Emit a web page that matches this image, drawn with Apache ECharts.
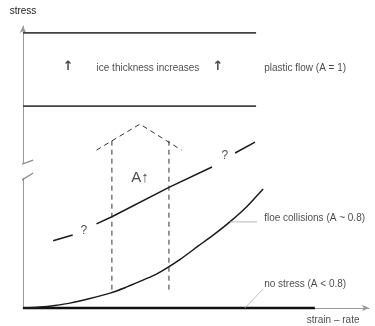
<!DOCTYPE html>
<html><head><meta charset="utf-8">
<script src="https://cdn.jsdelivr.net/npm/echarts@6/dist/echarts.min.js"></script>
<style>html,body{margin:0;padding:0;background:#fff}#c{width:375px;height:326px}</style>
</head><body><div id="c"></div>
<script>
// Schematic: stress vs strain-rate (arbitrary units)
const plasticUpper = [[0, 9.62], [6.66, 9.62]];
const plasticLower = [[0, 7.06], [6.66, 7.06]];
const noStress = [[0, 0], [8.34, 0]];
const floeCollisions = [[0, 0], [0.49, 0.035], [0.91, 0.09], [1.34, 0.17], [1.91, 0.33], [2.49, 0.52], [2.91, 0.71], [3.34, 0.93], [3.77, 1.16], [4.06, 1.36], [4.49, 1.70], [5.0, 2.16], [5.49, 2.60], [5.91, 3.01], [6.4, 3.55], [6.86, 4.16]];
const uncertainStart = [[0.86, 2.35], [1.42, 2.55]];
const uncertainMid = [[2.10, 2.94], [2.54, 3.19], [4.17, 4.22], [5.40, 4.93]];
const uncertainEnd = [[6.06, 5.42], [6.63, 5.80]];
const arrowRoof = [[2.10, 5.52], [3.34, 6.43], [4.53, 5.52]];
const arrowLeft = [[2.54, 5.85], [2.54, 0.52]];
const arrowRight = [[4.17, 5.85], [4.17, 0.52]];
const leaderFloe = [[5.91, 3.01], [6.69, 3.01]];
const leaderNoStress = [[6.34, 0], [6.86, 0.66]];
const breakGap = [[0, 4.55], [0, 5.05]];
const breakUpper = [[-0.17, 4.97], [0.29, 5.17]];
const breakLower = [[-0.17, 4.37], [0.29, 4.72]];

const labelTexts = ['↑', '↑', 'ice thickness increases', 'plastic flow (A = 1)', 'A↑', '?', '?', 'floe collisions (A ~ 0.8)', 'no stress (A < 0.8)', 'strain – rate'];
const labelX = [1.29, 5.57, 3.57, 6.89, 3.34, 1.74, 5.77, 6.89, 6.89, 8.86];
const labelY = [8.43, 8.43, 8.39, 8.39, 4.55, 2.69, 5.31, 3.15, 0.84, -0.42];

const FONT = '"Liberation Sans", Arial, sans-serif';
const chart = echarts.init(document.getElementById('c'), null, {renderer: 'canvas'});

function seg(data, color, width, type, z) {
  return {
    type: 'line', data: data, symbol: 'none', showSymbol: false, clip: false,
    silent: true, z: z || 2,
    lineStyle: {color: color, width: width, type: type || 'solid', cap: 'butt'}
  };
}

const ARROWFONT = '"DejaVu Sans", sans-serif';
const labelStyles = [
  {fontSize: 13, align: 'center', fontWeight: 'bold', fontFamily: ARROWFONT},
  {fontSize: 13, align: 'center', fontWeight: 'bold', fontFamily: ARROWFONT},
  {fontSize: 10, align: 'center'}, {fontSize: 10, align: 'left'},
  {fontSize: 15, align: 'center'}, {fontSize: 12, align: 'center'},
  {fontSize: 12, align: 'center'}, {fontSize: 10, align: 'left'},
  {fontSize: 10, align: 'left'}, {fontSize: 10, align: 'center'}
];

const labelData = labelTexts.map((t, i) => ({
  value: [labelX[i], labelY[i]], name: t,
  label: Object.assign({}, labelStyles[i])
}));

chart.setOption({
  animation: false,
  backgroundColor: '#fff',
  grid: {left: 23, right: 6, top: 26, bottom: 18, containLabel: false},
  xAxis: {
    type: 'value', min: 0, max: 9.886,
    axisLine: {show: true, lineStyle: {color: '#999', width: 1}, symbol: ['none', 'arrow'], symbolSize: [5, 7]},
    axisTick: {show: false}, axisLabel: {show: false}, splitLine: {show: false}
  },
  yAxis: {
    type: 'value', min: 0, max: 9.86,
    name: 'stress', nameLocation: 'end', nameGap: 10,
    nameTextStyle: {color: '#222', fontSize: 10, fontFamily: FONT, align: 'center'},
    axisLine: {show: true, lineStyle: {color: '#999', width: 1}, symbol: ['none', 'arrow'], symbolSize: [5, 7]},
    axisTick: {show: false}, axisLabel: {show: false}, splitLine: {show: false}
  },
  series: [
    seg(breakGap, '#fff', 4, 'solid', 3),
    seg(breakUpper, '#888', 1.2, 'solid', 4),
    seg(breakLower, '#888', 1.2, 'solid', 4),
    seg(plasticUpper, '#444', 1.6),
    seg(plasticLower, '#444', 1.6),
    seg(noStress, '#111', 2.6),
    Object.assign(seg(floeCollisions, '#1a1a1a', 1.5), {smooth: 0.2}),
    seg(uncertainStart, '#1a1a1a', 1.5),
    seg(uncertainMid, '#1a1a1a', 1.5),
    seg(uncertainEnd, '#1a1a1a', 1.5),
    seg(arrowRoof, '#333', 1, [5, 4]),
    seg(arrowLeft, '#333', 1, [5, 4]),
    seg(arrowRight, '#333', 1, [5, 4]),
    seg(leaderFloe, '#aaa', 0.8),
    seg(leaderNoStress, '#aaa', 0.8),
    {
      type: 'scatter', data: labelData, symbolSize: 1, clip: false, silent: true, z: 5,
      itemStyle: {color: 'transparent'},
      label: {
        show: true, position: 'inside', formatter: p => p.name,
        color: '#1a1a1a', fontFamily: FONT, verticalAlign: 'middle'
      }
    }
  ]
});
</script>
</body></html>
